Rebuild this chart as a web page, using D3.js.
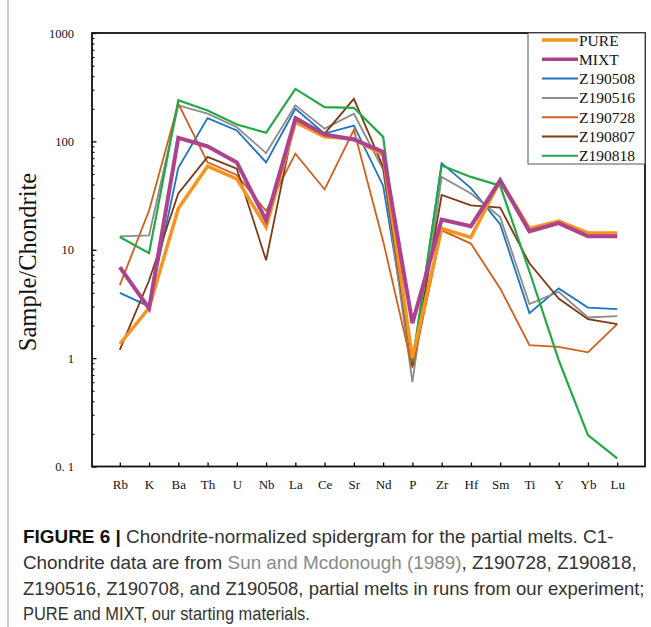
<!DOCTYPE html>
<html>
<head>
<meta charset="utf-8">
<script src="https://cdn.jsdelivr.net/npm/d3@7"></script>
<style>
  body { margin: 0; background: #fff; }
  svg { display: block; }
</style>
</head>
<body>
<script>
// element order on the x axis
const elements = ["Rb", "K", "Ba", "Th", "U", "Nb", "La", "Ce", "Sr", "Nd", "P", "Zr", "Hf", "Sm", "Ti", "Y", "Yb", "Lu"];

// chondrite-normalized values
const PURE    = [1.35, 2.9, 24, 59, 45, 16.2, 150, 110, 105, 75, 1.0, 15.7, 13, 43.7, 15.7, 18.4, 14.3, 14.3];
const MIXT    = [6.9, 2.87, 108, 90, 64, 18.7, 162, 116, 104, 80, 2.1, 19, 16.5, 43.7, 14.8, 17.6, 13.3, 13.3];
const Z190508 = [4.0, 3.0, 57, 164, 126, 64, 200, 118, 140, 39, 0.88, 63, 37, 17.2, 2.6, 4.4, 2.93, 2.83];
const Z190516 = [13.3, 13.6, 215, 180, 135, 78, 215, 131, 180, 55, 0.6, 47, 33, 20, 3.15, 4.1, 2.37, 2.44];
const Z190728 = [4.7, 23, 222, 64, 49, 22.8, 77, 36, 128, 12, 0.81, 15.1, 11.4, 4.4, 1.32, 1.27, 1.13, 2.06];
const Z190807 = [1.19, 5.2, 33, 72, 56, 8.0, 168, 118, 247, 58, 0.85, 32, 25.7, 24.5, 7.5, 3.55, 2.29, 2.06];
const Z190818 = [13.1, 9.3, 240, 193, 143, 120, 305, 207, 204, 110, 0.92, 60, 47, 39, 6.3, 0.96, 0.195, 0.119];

const seriesNames = ["PURE", "MIXT", "Z190508", "Z190516", "Z190728", "Z190807", "Z190818"];
const seriesValues = [PURE, MIXT, Z190508, Z190516, Z190728, Z190807, Z190818];
const seriesColors = ["#f7941d", "#ab438e", "#1f72c4", "#8c8c8c", "#d25f1c", "#7e3a17", "#22a844"];
const seriesWidths = [3.5, 4, 1.8, 1.8, 1.8, 1.8, 2.2];

const yTickValues = [0.1, 1, 10, 100, 1000];
const yTickLabels = ["0. 1", "1", "10", "100", "1000"];

const W = 651, H = 627;
const plotLeft = 92, plotRight = 645, plotTop = 33, plotBottom = 466.5;

const svg = d3.select("body").append("svg")
    .attr("width", W)
    .attr("height", H);

// thin page border on the left
svg.append("line")
    .attr("x1", 8).attr("x2", 8)
    .attr("y1", 0).attr("y2", H)
    .attr("stroke", "#9a9a9a")
    .attr("stroke-width", 1);

let x = d3.scalePoint()
    .domain(elements)
    .range([plotLeft, plotRight])
    .padding(0.95);

let y = d3.scaleLog()
    .domain([0.1, 1000])
    .range([plotBottom, plotTop]);

// x axis, ticks pointing inward
svg.append("g")
    .attr("transform", "translate(0," + plotBottom + ")")
    .call(d3.axisBottom(x).tickSizeInner(-4).tickSizeOuter(0).tickPadding(13.5))
    .call(g => g.select(".domain").remove())
    .call(g => g.selectAll("line").attr("stroke", "#000").attr("stroke-width", 1.3))
    .call(g => g.selectAll("text")
        .attr("font-family", "'Liberation Serif', 'Times New Roman', serif")
        .attr("font-size", "13px")
        .attr("fill", "#111"));

// y axis major ticks
svg.append("g")
    .attr("transform", "translate(" + plotLeft + ",0)")
    .call(d3.axisLeft(y).tickValues(yTickValues)
        .tickFormat((d, i) => yTickLabels[i])
        .tickSizeInner(-4.5).tickSizeOuter(0).tickPadding(18))
    .call(g => g.select(".domain").remove())
    .call(g => g.selectAll("line").attr("stroke", "#000").attr("stroke-width", 1.3))
    .call(g => g.selectAll("text")
        .attr("font-family", "'Liberation Serif', 'Times New Roman', serif")
        .attr("font-size", "12.5px")
        .attr("fill", "#111"));

// y axis minor ticks
let minorTicks = [];
[0.1, 1, 10, 100].forEach(base => {
    for (let k = 2; k <= 9; k++) minorTicks.push(base * k);
});
svg.append("g")
    .attr("transform", "translate(" + plotLeft + ",0)")
    .call(d3.axisLeft(y).tickValues(minorTicks).tickFormat("").tickSizeInner(-2.5).tickSizeOuter(0))
    .call(g => g.select(".domain").remove())
    .call(g => g.selectAll("line").attr("stroke", "#000").attr("stroke-width", 1.1));

// frame
svg.append("rect")
    .attr("x", plotLeft).attr("y", plotTop)
    .attr("width", plotRight - plotLeft).attr("height", plotBottom - plotTop)
    .attr("fill", "none")
    .attr("stroke", "#111")
    .attr("stroke-width", 1.8);

// y title
svg.append("text")
    .attr("transform", "translate(36,262) rotate(-90)")
    .attr("text-anchor", "middle")
    .attr("font-family", "'Liberation Serif', 'Times New Roman', serif")
    .attr("font-size", "24.5px")
    .attr("fill", "#111")
    .text("Sample/Chondrite");

// lines: thin samples first, starting materials on top
let line = d3.line()
    .x((d, i) => x(elements[i]))
    .y(d => y(d));

let drawOrder = [2, 3, 4, 5, 6, 0, 1];
svg.append("g")
    .selectAll("path")
    .data(drawOrder)
    .join("path")
    .attr("d", i => line(seriesValues[i]))
    .attr("fill", "none")
    .attr("stroke", i => seriesColors[i])
    .attr("stroke-width", i => seriesWidths[i])
    .attr("stroke-linejoin", "miter")
    .attr("stroke-miterlimit", 3);

// legend
let legendBox = svg.append("g");
legendBox.append("rect")
    .attr("x", 528).attr("y", plotTop)
    .attr("width", plotRight - 528).attr("height", 131)
    .attr("fill", "#fff")
    .attr("stroke", "#555")
    .attr("stroke-width", 1);

let legendItems = legendBox.selectAll("g.item")
    .data(seriesNames)
    .join("g")
    .attr("class", "item")
    .attr("transform", (d, i) => "translate(0," + (40 + i * 19.3) + ")");

legendItems.append("line")
    .attr("x1", 542).attr("x2", 578)
    .attr("stroke", (d, i) => seriesColors[i])
    .attr("stroke-width", (d, i) => i < 2 ? 3.5 : 2);

legendItems.append("text")
    .attr("x", 579)
    .attr("y", 5.5)
    .attr("font-family", "'Liberation Serif', 'Times New Roman', serif")
    .attr("font-size", "15.5px")
    .attr("fill", "#111")
    .text(d => d);

// caption
const captionLines = [
    [["FIGURE 6 | ", "bold", "#111"], ["Chondrite-normalized spidergram for the partial melts. C1-", "normal", "#333"]],
    [["Chondrite data are from ", "normal", "#333"], ["Sun and Mcdonough (1989)", "normal", "#8a8a8a"], [", Z190728, Z190818,", "normal", "#333"]],
    [["Z190516, Z190708, and Z190508, partial melts in runs from our experiment;", "normal", "#333"]],
    [["PURE and MIXT, our starting materials.", "normal", "#333"]]
];
const captionRight = [614, 637, 645, 310];
const captionLeft = 23;

captionLines.forEach((parts, li) => {
    let baseY = 543 + li * 25.8;
    let t = svg.append("text")
        .attr("x", captionLeft)
        .attr("y", baseY)
        .attr("font-family", "'Liberation Sans', Arial, sans-serif")
        .attr("font-size", "18px");
    parts.forEach(p => {
        t.append("tspan")
            .attr("font-weight", p[1])
            .attr("fill", p[2])
            .text(p[0]);
    });
    let w = t.node().getComputedTextLength();
    let sx = (captionRight[li] - captionLeft) / w;
    t.attr("transform", "translate(" + captionLeft + "," + baseY + ") scale(" + sx + ",1) translate(" + (-captionLeft) + "," + (-baseY) + ")");
});
</script>
</body>
</html>
